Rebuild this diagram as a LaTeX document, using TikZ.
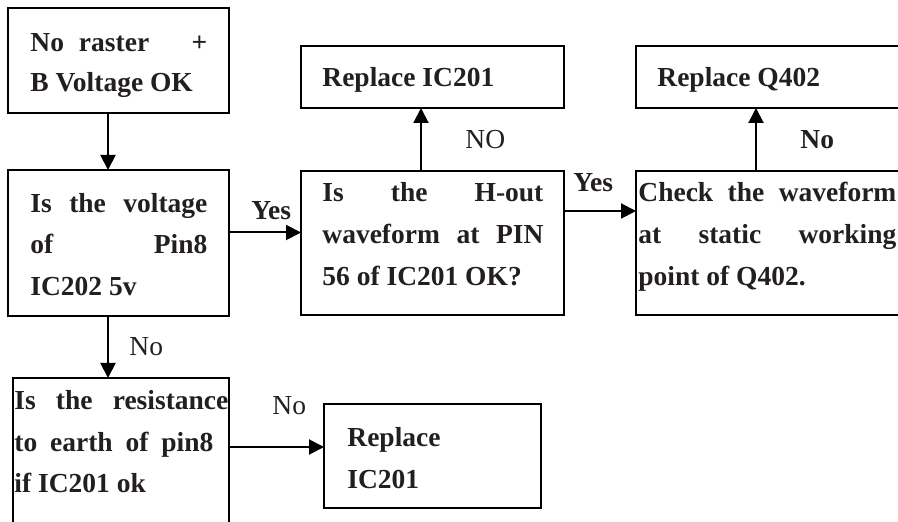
\documentclass[tikz,border=0pt]{standalone}
\usepackage{fontspec}
\setmainfont{Liberation Serif}
\usetikzlibrary{arrows.meta}
\definecolor{ink}{RGB}{35,31,32}
\begin{document}
\begin{tikzpicture}[x=0.5pt,y=-0.5pt,
  box/.style={draw, line width=1pt, inner sep=0pt, outer sep=0pt},
  arr/.style={line width=1pt, -{Triangle[length=7.5pt,width=7.5pt]}},
  txt/.style={anchor=base west, inner sep=0pt, text=ink, font=\fontsize{13.75}{20.75}\selectfont\bfseries},
  lbl/.style={anchor=base west, inner sep=0pt, text=ink, font=\fontsize{13.75}{20.75}\selectfont},
  blbl/.style={anchor=base west, inner sep=0pt, text=ink, font=\fontsize{13.75}{20.75}\selectfont\bfseries}]
\useasboundingbox (0,0) rectangle (898,522);
% boxes
\node[box, minimum width=110.5pt, minimum height=52.5pt] (A) at (118.5,60.5) {};
\node[box, minimum width=110.5pt, minimum height=73pt] (B) at (118.5,243) {};
\node[box, minimum width=131.5pt, minimum height=72pt] (C) at (432.5,243) {};
\node[box, minimum width=131.5pt, minimum height=31pt] (R1) at (432.5,77) {};
\node[box, minimum width=137pt, minimum height=72pt] (D) at (773,243) {};
\node[box, minimum width=137pt, minimum height=31pt] (R2) at (773,77) {};
\node[box, minimum width=108pt, minimum height=81pt] (E) at (121,459) {};
\node[box, minimum width=108.5pt, minimum height=52pt] (F) at (432.5,456) {};
% texts
\node[txt] (a1) at (30,52) {\makebox[88.5pt][l]{No\hspace{7.5pt}raster\hfill+}};
\node[txt] (a2) at (30,92) {B Voltage OK};
\node[txt] (b1) at (30,213) {\makebox[88.5pt][s]{Is the voltage}};
\node[txt] (b2) at (30,254) {\makebox[88.5pt][s]{of Pin8}};
\node[txt] (b3) at (30,296) {IC202 5v};
\node[txt] (c1) at (322,202) {\makebox[110.5pt][s]{Is the H-out}};
\node[txt] (c2) at (322,244) {\makebox[110.5pt][s]{waveform at PIN}};
\node[txt] (c3) at (322,286) {56 of IC201 OK?};
\node[txt] (r1) at (322,87) {Replace IC201};
\node[txt] (d1) at (638,202) {\makebox[129pt][s]{Check the waveform}};
\node[txt] (d2) at (638,244) {\makebox[129pt][s]{at static working}};
\node[txt] (d3) at (638,286) {point of Q402.};
\node[txt] (r2) at (657,87) {Replace Q402};
\node[txt] (e1) at (14,410) {\makebox[107pt][s]{Is the resistance}};
\node[txt] (e2) at (14,452) {\makebox[99.5pt][s]{to earth of pin8}};
\node[txt] (e3) at (14,493) {if IC201 ok};
\node[txt] (f1) at (347,447) {Replace};
\node[txt] (f2) at (347,489) {IC201};
% connector labels
\node[blbl] (y1) at (251,220) {Yes};
\node[lbl] (n1) at (465,149) {NO};
\node[blbl] (y2) at (573,192) {Yes};
\node[blbl] (n2) at (800,149) {No};
\node[lbl] (n3) at (129,356) {No};
\node[lbl] (n4) at (272,415) {No};
% connectors
\draw[arr] ([xshift=-5.25pt]A.south) -- ([xshift=-5.25pt]B.north);
\draw[arr] ([yshift=5.25pt]B.east) -- ([yshift=5.25pt]C.west);
\draw[arr] ([xshift=-5.75pt]C.north) -- ([xshift=-5.75pt]R1.south);
\draw[arr] ([yshift=16pt]C.east) -- ([yshift=16pt]D.west);
\draw[arr] ([xshift=-8.5pt]D.north) -- ([xshift=-8.5pt]R2.south);
\draw[arr] ([xshift=-5.25pt]B.south) -- ([xshift=-6.5pt]E.north);
\draw[arr] ([yshift=6pt]E.east) -- ([yshift=4.5pt]F.west);
\end{tikzpicture}
\end{document}
